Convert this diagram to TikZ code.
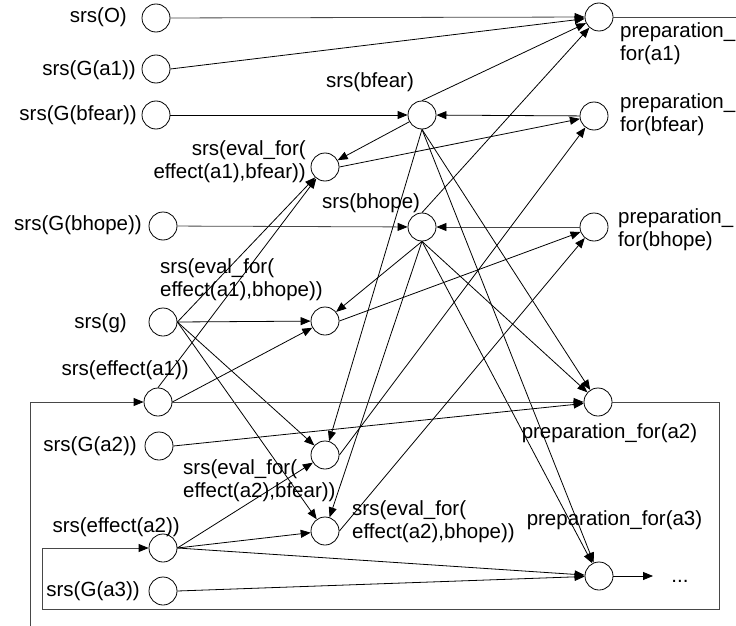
\documentclass[tikz,border=0pt]{standalone}
\usepackage{fontspec}
\setmainfont{Liberation Sans}
\usetikzlibrary{arrows.meta}
\begin{document}
\begin{tikzpicture}[x=1pt,y=-1pt,
  state/.style={circle,draw,line width=0.8pt,minimum size=28pt,inner sep=0pt,fill=white},
  lbl/.style={inner sep=0pt,font=\fontsize{20.5}{23}\selectfont},
  conn/.style={draw,line width=0.8pt,-{Triangle[length=10pt,width=8pt,color=black,fill=black]}},
  gconn/.style={conn,draw=black!72},
  gline/.style={draw=black!72,line width=0.8pt},
]
\fill[white] (0,0) rectangle (736,626);
\useasboundingbox (0,0) rectangle (736,626);

% circles
\node[state] (O) at (156,18) {};
\node[state] (Ga1) at (156,69) {};
\node[state] (Gbfear) at (156,115) {};
\node[state] (Gbhope) at (163,226) {};
\node[state] (g) at (163,322) {};
\node[state] (effa1) at (158,402) {};
\node[state] (Ga2) at (159,446) {};
\node[state] (effa2) at (163,548) {};
\node[state] (Ga3) at (163,591) {};
\node[state] (ev1f) at (325,167) {};
\node[state] (bfear) at (422,115) {};
\node[state] (bhope) at (422,227) {};
\node[state] (ev1h) at (325,321) {};
\node[state] (ev2f) at (325,455) {};
\node[state] (ev2h) at (325,531) {};
\node[state] (pa1) at (599,17) {};
\node[state] (pbf) at (594,116) {};
\node[state] (pbh) at (594,227) {};
\node[state] (pa2) at (598,402) {};
\node[state] (pa3) at (599,576) {};

% labels
\node[lbl,anchor=east] (lO) at (127,17) {srs(O)};
\node[lbl,anchor=east] (lGa1) at (136,70) {srs(G(a1))};
\node[lbl,anchor=east] (lGbf) at (137,115) {srs(G(bfear))};
\node[lbl,anchor=east] (lGbh) at (142,225) {srs(G(bhope))};
\node[lbl,anchor=east] (lg) at (127,323) {srs(g)};
\node[lbl,anchor=east] (le1) at (189,370) {srs(effect(a1))};
\node[lbl,anchor=east] (lGa2) at (137,446) {srs(G(a2))};
\node[lbl,anchor=east] (le2) at (180,527) {srs(effect(a2))};
\node[lbl,anchor=east] (lGa3) at (140,591) {srs(G(a3))};
\node[lbl] (lbf) at (370,82) {srs(bfear)};
\node[lbl] (lbh) at (371,203) {srs(bhope)};
\node[lbl,anchor=east,align=right] (lev1f) at (306,161.5) {srs(eval\_for(\\effect(a1),bfear))};
\node[lbl,anchor=west,align=left] (lev1h) at (160,279.5) {srs(eval\_for(\\effect(a1),bhope))};
\node[lbl,anchor=west,align=left] (lev2f) at (183,481) {srs(eval\_for(\\effect(a2),bfear))};
\node[lbl,anchor=west,align=left] (lev2h) at (352,521.5) {srs(eval\_for(\\effect(a2),bhope))};
\node[lbl,anchor=west,align=left] (lpa1) at (620,44) {preparation\_\\for(a1)};
\node[lbl,anchor=west,align=left] (lpbf) at (620,115) {preparation\_\\for(bfear)};
\node[lbl,anchor=west,align=left] (lpbh) at (618,230) {preparation\_\\for(bhope)};
\node[lbl] (lpa2) at (609.5,433) {preparation\_for(a2)};
\node[lbl] (lpa3) at (614.5,520) {preparation\_for(a3)};
\node[lbl,anchor=base] (dots) at (680,582) {...};
\coordinate (dotsin) at (653,576);

% free ends
\coordinate (out1) at (736,17);
\coordinate (in1) at (30,626);
\coordinate (c1) at (719,402);
\coordinate (c2) at (719,609);
\coordinate (c3) at (42,609);

% connectors
\draw[gconn] (O) -- (pa1);
\draw[conn] (Ga1.east) -- (pa1);
\draw[conn] (bfear.north) -- (pa1);
\draw[conn] (bhope.north) -- (pa1);
\draw[conn] (Gbfear) -- (bfear);
\draw[conn] (pbf) -- (bfear);
\draw[gconn] (Gbhope) -- (bhope);
\draw[gconn] (pbh) -- (bhope);
\draw[conn] (bfear) -- (ev1f);
\draw[conn] (bfear.south) -- (ev2f);
\draw[conn] (bfear.south) -- (pa2);
\draw[conn] (bfear.south) -- (pa3);
\draw[conn] (bhope.south) -- (ev1h);
\draw[conn] (bhope.south) -- (ev2h);
\draw[conn] (bhope.south) -- (pa2);
\draw[conn] (bhope.south) -- (pa3);
\draw[conn] (g.east) -- (ev1f);
\draw[conn] (g.east) -- (ev1h);
\draw[conn] (g.east) -- (ev2f);
\draw[conn] (g.east) -- (ev2h);
\draw[conn] (effa1.north) -- (ev1f);
\draw[conn] (effa1.east) -- (ev1h);
\draw[gconn] (effa1) -- (pa2);
\draw[conn] (Ga2.east) -- (pa2);
\draw[conn] (effa2.east) -- (ev2f);
\draw[conn] (effa2.east) -- (ev2h);
\draw[conn] (effa2.east) -- (pa3);
\draw[conn] (Ga3.east) -- (pa3);
\draw[conn] (ev1f.east) -- (pbf);
\draw[conn] (ev2f.east) -- (pbf);
\draw[conn] (ev1h.east) -- (pbh);
\draw[conn] (ev2h.east) -- (pbh);
\draw[conn] (pa3) -- (dotsin);
\draw[gline] (pa1) -- (out1);
\draw[gconn] (in1) |- (effa1);
\draw[gconn] (pa2) -- (c1) -- (c2) -- (c3) |- (effa2);
\end{tikzpicture}
\end{document}
